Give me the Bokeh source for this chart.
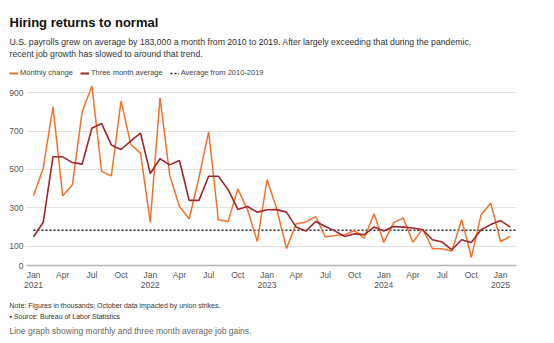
from bokeh.plotting import figure
from bokeh.layouts import column
from bokeh.models import Range1d, FixedTicker, Label, Legend, LegendItem
from bokeh.embed import file_html
from bokeh.resources import INLINE

# ---- data (thousands of jobs), Jan 2021 .. Feb 2025 ----
month_index = list(range(50))
monthly_change = [363, 507, 826, 363, 420, 801, 935, 490, 467, 857, 630, 585,
                  225, 873, 469, 307, 243, 457, 697, 238, 229, 399, 290, 125,
                  446, 295, 88, 218, 226, 255, 148, 156, 160, 182, 143, 270,
                  120, 222, 248, 121, 191, 87, 87, 75, 239, 43, 264, 325,
                  125, 151]
three_month_avg = [150, 225, 566, 566, 536, 528, 715, 739, 628, 604, 649, 689,
                   479, 556, 524, 547, 339, 339, 465, 465, 395, 292, 307, 278,
                   290, 291, 278, 200, 179, 229, 203, 179, 151, 165, 161, 200,
                   180, 203, 200, 195, 186, 134, 122, 82, 134, 120, 186, 213,
                   234, 200]
avg_2010_2019 = 183
x_ticks = list(range(0, 49, 3))
x_tick_labels = ["Jan\n2021", "Apr", "Jul", "Oct",
                 "Jan\n2022", "Apr", "Jul", "Oct",
                 "Jan\n2023", "Apr", "Jul", "Oct",
                 "Jan\n2024", "Apr", "Jul", "Oct",
                 "Jan\n2025"]
y_ticks = [0, 100, 300, 500, 700, 900]

title_text = "Hiring returns to normal"
subtitle_lines = ["U.S. payrolls grew on average by 183,000 a month from 2010 to 2019. "
                  "After largely exceeding that during the pandemic,",
                  "recent job growth has slowed to around that trend."]
legend_labels = ["Monthly change", "Three month average", "Average from 2010-2019"]
note_text = "Note: Figures in thousands; October data impacted by union strikes."
source_text = "\u2022 Source: Bureau of Labor Statistics"
caption_text = "Line graph showing monthly and three month average job gains."

ORANGE = "#f2722c"
DARKRED = "#9e262b"
DASH = "#222222"
FONT = "Liberation Sans"
W = 554
NAN = float("nan")


def blank(height):
    f = figure(width=W, height=height, output_backend="svg", toolbar_location=None,
               x_range=Range1d(0, W), y_range=Range1d(height, 0),
               x_axis_location=None, y_axis_location=None,
               min_border=0)
    f.grid.visible = False
    f.outline_line_color = None
    f.background_fill_color = "white"
    f.border_fill_color = "white"
    if "frame_align" in f.properties():
        f.frame_align = False
    return f


def text(f, x, y, txt, size, color="#333333", bold=False):
    f.add_layout(Label(x=x, y=y, text=txt, text_font=FONT, text_font_size=size,
                       text_color=color, text_baseline="alphabetic",
                       text_font_style="bold" if bold else "normal"))


# ---------------- header ----------------
header = blank(82)
text(header, 9, 22, title_text, "13px", "#111111", bold=True)
text(header, 9, 41, subtitle_lines[0], "8.7px", "#333333")
text(header, 9, 53, subtitle_lines[1], "8.7px", "#333333")
# legend-only renderers (a single NaN point: nothing is drawn in the header)
h_month = header.line([NAN], [NAN], line_color=ORANGE, line_width=2)
h_three = header.line([NAN], [NAN], line_color=DARKRED, line_width=2)
h_avg = header.line([NAN], [NAN], line_color=DASH, line_width=1.5, line_dash="2 2")
legend = Legend(items=[LegendItem(label=legend_labels[0], renderers=[h_month]),
                       LegendItem(label=legend_labels[1], renderers=[h_three]),
                       LegendItem(label=legend_labels[2], renderers=[h_avg])],
                orientation="horizontal", location=(9, 5),
                label_text_font=FONT, label_text_font_size="7.5px",
                label_text_color="#444444", glyph_width=9, glyph_height=8,
                label_standoff=2, spacing=7, padding=0, margin=0,
                label_height=8, border_line_color=None,
                background_fill_alpha=0)
header.add_layout(legend, "center")

# ---------------- chart ----------------
x_start, x_end = -0.72, 49.64
p = figure(width=W, height=213, output_backend="svg", toolbar_location=None,
           x_range=Range1d(x_start, x_end), y_range=Range1d(0, 953),
           min_border_left=26, min_border_right=38,
           min_border_top=0, min_border_bottom=30)
p.outline_line_color = None
p.background_fill_color = "white"
p.border_fill_color = "white"

p.xgrid.grid_line_color = None
p.ygrid.grid_line_color = "#e2e2e2"
p.ygrid.grid_line_width = 1
p.ygrid.ticker = FixedTicker(ticks=y_ticks[1:])

p.yaxis.ticker = FixedTicker(ticks=y_ticks)
p.yaxis.axis_line_color = None
p.yaxis.major_tick_line_color = None
p.yaxis.minor_tick_line_color = None
p.yaxis.major_tick_out = 0
p.yaxis.major_tick_in = 0
p.yaxis.minor_tick_out = 0
p.yaxis.major_label_standoff = 3
p.yaxis.major_label_text_font = FONT
p.yaxis.major_label_text_font_size = "8.5px"
p.yaxis.major_label_text_color = "#555555"

p.xaxis.ticker = FixedTicker(ticks=x_ticks)
p.xaxis.major_label_overrides = {t: l for t, l in zip(x_ticks, x_tick_labels)}
p.xaxis.axis_line_color = "#b5b5b5"
p.xaxis.axis_line_width = 1.5
p.xaxis.major_tick_line_color = None
p.xaxis.minor_tick_line_color = None
p.xaxis.major_tick_out = 0
p.xaxis.major_tick_in = 0
p.xaxis.minor_tick_out = 0
p.xaxis.major_label_standoff = 4
p.xaxis.major_label_text_font = FONT
p.xaxis.major_label_text_font_size = "8.5px"
p.xaxis.major_label_text_line_height = 1.0
p.xaxis.major_label_text_color = "#555555"

p.line([month_index[0], x_end], [avg_2010_2019, avg_2010_2019],
       line_color=DASH, line_width=1.5, line_dash="2 2")
p.line(month_index, monthly_change, line_color=ORANGE, line_width=1.5)
p.line(month_index, three_month_avg, line_color=DARKRED, line_width=1.6)

# ---------------- footer ----------------
footer = blank(48)
text(footer, 9, 10, note_text, "7px", "#333333")
text(footer, 9, 21, source_text, "7px", "#333333")
text(footer, 9, 35, caption_text, "8.5px", "#666666")

layout = column(header, p, footer, spacing=0)
open("out.html", "w").write(file_html(layout, INLINE))
